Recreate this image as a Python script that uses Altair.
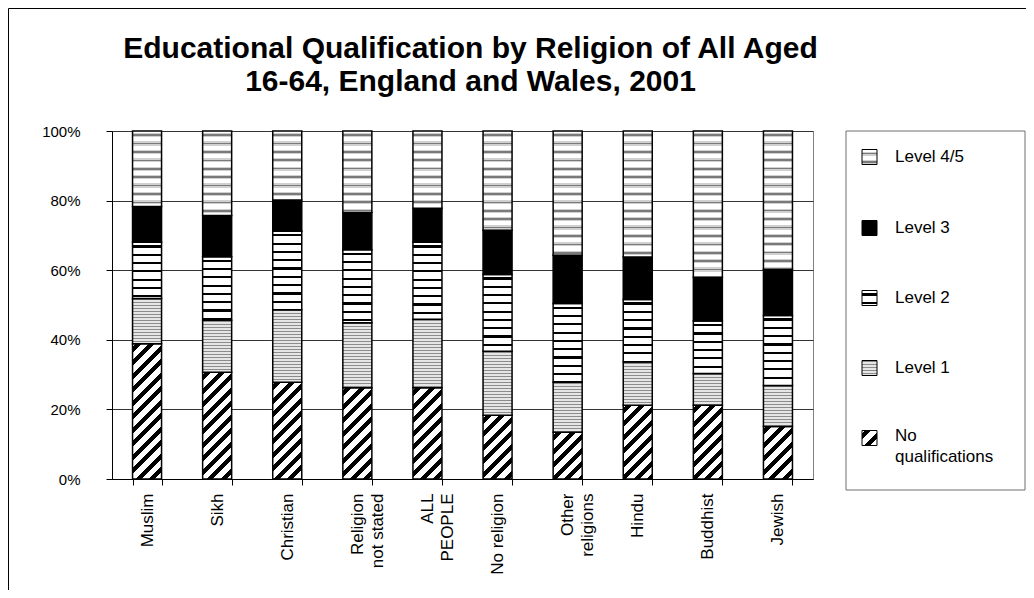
import altair as alt
import pandas as pd

# ---------------- data (percent of people aged 16-64) ----------------
categories = ["Muslim", "Sikh", "Christian", "Religion not stated", "ALL PEOPLE",
              "No religion", "Other religions", "Hindu", "Buddhist", "Jewish"]
tick_labels = [["Muslim"], ["Sikh"], ["Christian"], ["Religion", "not stated"],
               ["ALL", "PEOPLE"], ["No religion"], ["Other", "religions"],
               ["Hindu"], ["Buddhist"], ["Jewish"]]
levels = ["No qualifications", "Level 1", "Level 2", "Level 3", "Level 4/5"]
no_qual = [38.9, 30.7, 27.8, 26.2, 26.2, 18.3, 13.4, 21.2, 21.2, 15.1]
level1 = [13.0, 14.9, 20.8, 18.7, 19.7, 18.4, 14.4, 12.4, 9.1, 11.8]
level2 = [16.1, 18.3, 22.6, 21.0, 22.1, 22.1, 22.6, 18.0, 15.1, 20.1]
level3 = [10.3, 11.8, 9.0, 10.7, 9.8, 12.7, 13.9, 12.2, 12.6, 13.3]
level45 = [21.7, 24.3, 19.8, 23.4, 22.2, 28.5, 35.7, 36.2, 42.0, 39.7]
series = [no_qual, level1, level2, level3, level45]
y_ticks = [0, 20, 40, 60, 80, 100]
title_lines = ["Educational Qualification by Religion of All Aged",
               "16-64, England and Wales, 2001"]

rows = []
for li, (lvl, vals) in enumerate(zip(levels, series)):
    for cat, v in zip(categories, vals):
        rows.append({"religion": cat, "level": lvl, "order": li, "value": v})
df = pd.DataFrame(rows)
one = pd.DataFrame({"k": [0]})

# ---------------- styling constants ----------------
FONT = "Liberation Sans"
W_PLOT, H_PLOT = 701, 348
PAD_INNER = 0.586
BAR_W = W_PLOT / len(categories) * (1 - PAD_INNER)
D = 400.0  # pixel length spanned by a pattern gradient


def stripe_stops(period, bands, light, start):
    """bands: list of (width, colour) drawn at the start of every period."""
    stops = [(0.0, light)]
    pos = start
    while pos < D:
        a = pos / D
        stops.append((a, light))
        p = pos
        for w, col in bands:
            a = min(p / D, 1.0)
            b = min((p + w) / D, 1.0)
            stops += [(a, col), (b, col)]
            p += w
        stops.append((min(p / D, 1.0), light))
        pos += period
    stops.append((1.0, light))
    return stops


diag_stops = stripe_stops(13.5, [(6.0, "#000000")], "#ffffff", 3.0)
horiz_stops = stripe_stops(8.3, [(2.2, "#000000")], "#ffffff", 3.0)
wave_stops = stripe_stops(8.4, [(1.3, "#d0d0d0"), (1.6, "#7a7a7a"), (1.3, "#d0d0d0")],
                          "#ffffff", 2.0)
dot_stops = stripe_stops(3.0, [(1.0, "#8c8c8c")], "#e6e6e6", 0.5)


def js_stops(stops):
    return "[" + ",".join("{offset:%.5f,color:'%s'}" % (o, c) for o, c in stops) + "]"


def py_stops(stops):
    return [{"offset": round(o, 5), "color": c} for o, c in stops]


WW = BAR_W * BAR_W
fill_expr = (
    "datum.level === 'No qualifications' ? "
    "{gradient:'linear', x1:0, y1:0, "
    f"x2:{D}*{BAR_W:.4f}/({WW:.4f}+datum.h*datum.h), "
    f"y2:{D}*datum.h/({WW:.4f}+datum.h*datum.h), stops:{js_stops(diag_stops)}}} : "
    "datum.level === 'Level 2' ? "
    f"{{gradient:'linear', x1:0, y1:0, x2:0, y2:{D}/datum.h, stops:{js_stops(horiz_stops)}}} : "
    "datum.level === 'Level 4/5' ? "
    f"{{gradient:'linear', x1:0, y1:0, x2:0, y2:{D}/datum.h, stops:{js_stops(wave_stops)}}} : "
    "datum.level === 'Level 1' ? "
    f"{{gradient:'linear', x1:0, y1:0, x2:0, y2:{D}/datum.h, stops:{js_stops(dot_stops)}}} : "
    "'#000000'"
)

label_expr = ""
for cat, lines in zip(categories, tick_labels):
    if len(lines) > 1:
        arr = "[" + ",".join("'%s'" % s for s in lines) + "]"
        label_expr += f"datum.label === '{cat}' ? {arr} : "
label_expr += "datum.label"

bars = alt.Chart(df).transform_calculate(
    h=f"datum.value * {H_PLOT / 100.0}"
).transform_calculate(
    grad=fill_expr
).mark_bar(stroke="black", strokeWidth=1.5).encode(
    x=alt.X("religion:N", sort=categories,
            scale=alt.Scale(paddingInner=PAD_INNER, paddingOuter=PAD_INNER / 2),
            axis=alt.Axis(title=None, labelAngle=-90, labelFontSize=17,
                          labelExpr=label_expr, labelLineHeight=20,
                          tickBand="extent", tickSize=6, labelPadding=8,
                          domainColor="black", tickColor="black",
                          labelColor="black", labelFont=FONT)),
    y=alt.Y("value:Q", stack=True, scale=alt.Scale(domain=[0, 100], nice=False),
            axis=alt.Axis(title=None, values=y_ticks, labelExpr="datum.value + '%'",
                          grid=True, gridColor="#333333", gridWidth=1,
                          tickSize=6, labelPadding=26, labelFontSize=15,
                          domainColor="black", tickColor="black",
                          labelColor="black", labelFont=FONT)),
    order=alt.Order("order:Q", sort="ascending"),
    fill=alt.Fill("grad:N", scale=None, legend=None),
)

# ---------------- legend (drawn manually so it can carry patterns) ----------
LEG_X0, LEG_X1, LEG_Y0, LEG_Y1 = 734, 913, 0, 359
SYM = 15
SYM_X = 750
TXT_X = 783
row_y = {"Level 4/5": 26, "Level 3": 97, "Level 2": 167, "Level 1": 237,
         "No qualifications": 307}

sym_fill = {
    "No qualifications": {"gradient": "linear", "x1": 0, "y1": 0,
                          "x2": D * SYM / (2 * SYM * SYM), "y2": D * SYM / (2 * SYM * SYM),
                          "stops": py_stops(diag_stops)},
    "Level 1": {"gradient": "linear", "x1": 0, "y1": 0, "x2": 0, "y2": D / SYM,
                "stops": py_stops(dot_stops)},
    "Level 2": {"gradient": "linear", "x1": 0, "y1": 0, "x2": 0, "y2": D / SYM,
                "stops": py_stops(horiz_stops)},
    "Level 3": "#000000",
    "Level 4/5": {"gradient": "linear", "x1": 0, "y1": 0, "x2": 0, "y2": D / SYM,
                  "stops": py_stops(wave_stops)},
}

legend_box = alt.Chart(one).mark_rect(fill="white", stroke="#6e6e6e", strokeWidth=1).encode(
    x=alt.value(LEG_X0), x2=alt.value(LEG_X1), y=alt.value(LEG_Y0), y2=alt.value(LEG_Y1))

legend_layers = []
for lvl in levels:
    cy = row_y[lvl]
    legend_layers.append(
        alt.Chart(one).mark_rect(fill=sym_fill[lvl], stroke="black", strokeWidth=1).encode(
            x=alt.value(SYM_X), x2=alt.value(SYM_X + SYM),
            y=alt.value(cy - SYM / 2), y2=alt.value(cy + SYM / 2)))
    if lvl == "No qualifications":
        txt = alt.Chart(one).mark_text(text=["No", "qualifications"], align="left",
                                       baseline="top", fontSize=17, lineHeight=21,
                                       font=FONT, color="black").encode(
            x=alt.value(TXT_X), y=alt.value(cy - 10))
    else:
        txt = alt.Chart(one).mark_text(text=lvl, align="left", baseline="middle",
                                       fontSize=17, font=FONT, color="black").encode(
            x=alt.value(TXT_X), y=alt.value(cy))
    legend_layers.append(txt)

# ---------------- outer frame ----------------
frame_v = alt.Chart(one).mark_rule(color="black", strokeWidth=1).encode(
    x=alt.value(-103.5), y=alt.value(-122.5), y2=alt.value(470))
frame_h = alt.Chart(one).mark_rule(color="black", strokeWidth=1).encode(
    x=alt.value(-103.5), x2=alt.value(920), y=alt.value(-122.5))

chart = alt.layer(frame_v, frame_h, legend_box, bars, *legend_layers).properties(
    width=W_PLOT, height=H_PLOT,
    autosize=alt.AutoSizeParams(type="none"),
    padding={"left": 104, "top": 123, "right": 213, "bottom": 111},
    title=alt.TitleParams(text=title_lines, fontSize=30, font=FONT, fontWeight="bold",
                          lineHeight=33, anchor="middle", frame="group", dx=8,
                          offset=-89, color="black"),
).configure_view(stroke="#808080", strokeWidth=1)

chart.save("out.html", embed_options={"renderer": "svg", "actions": False})
